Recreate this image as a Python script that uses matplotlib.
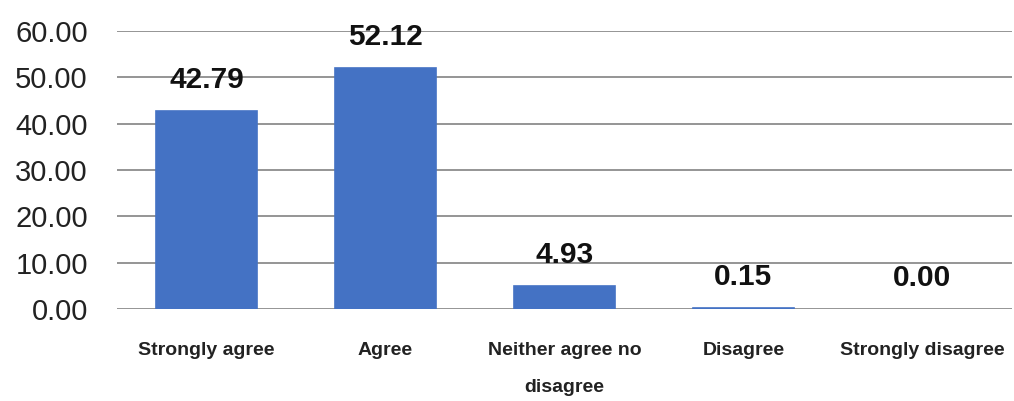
import numpy as np
import matplotlib.pyplot as plt

categories = ["Strongly agree", "Agree", "Neither agree no\ndisagree", "Disagree", "Strongly disagree"]
percent = [42.79, 52.12, 4.93, 0.15, 0.00]
yticks = [0, 10, 20, 30, 40, 50, 60]

plt.rcParams['font.family'] = ['Liberation Sans', 'DejaVu Sans']

fig = plt.figure(figsize=(10.14, 4.01), dpi=100)
ax = fig.add_axes([0.1154, 0.2294, 0.8826, 0.6933])

x = np.arange(len(categories))
bars = ax.bar(x, percent, width=0.565, color="#4472C4", zorder=3)
# thin outline so very small bars still show above the baseline
for rect, v in zip(bars, percent):
    if v > 0:
        rect.set_edgecolor("#4472C4")
        rect.set_linewidth(1.2)

for rect, v in zip(bars, percent):
    ax.annotate(f"{v:.2f}", (rect.get_x() + rect.get_width() / 2, v),
                xytext=(0, 31), textcoords="offset pixels",
                ha="center", va="center", fontsize=21.5, fontweight="bold",
                color="#111111", zorder=4)

ax.set_xlim(-0.5, len(categories) - 0.5)
ax.set_ylim(0, 60)
ax.set_yticks(yticks)
ax.set_yticklabels([f"{t:.2f}" for t in yticks], fontsize=21, color="#222222")
ax.set_xticks(x)
ax.set_xticklabels(categories, fontsize=14, fontweight="bold", color="#222222",
                   linespacing=2.55, va="top")
ax.tick_params(axis="y", length=0, pad=21)
ax.tick_params(axis="x", length=0, pad=24)

ax.yaxis.grid(True, color="#8c8c8c", linewidth=1.3, zorder=0)
for s in ["top", "right", "left", "bottom"]:
    ax.spines[s].set_visible(False)

fig.savefig("out.png", dpi=100)
